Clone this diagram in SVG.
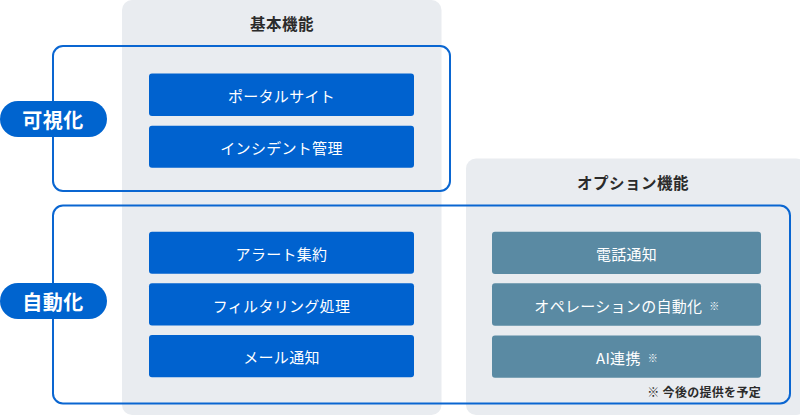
<svg xmlns="http://www.w3.org/2000/svg" width="800" height="416" viewBox="0 0 800 416">
<style>
text{font-family:"Noto Sans CJK JP","Noto Sans",sans-serif;}
.panel{fill:#e9ecf0;}
.ptitle{font-size:15.5px;font-weight:700;fill:#2b2b2b;text-anchor:middle;dominant-baseline:central;letter-spacing:0.5px;}
.outline{fill:none;stroke:#0a66d1;stroke-width:2;}
.pill{fill:#0064cf;}
.pilltxt{font-size:20px;font-weight:700;fill:#fff;text-anchor:middle;dominant-baseline:central;letter-spacing:0.5px;}
.bbox{fill:#0062cf;}
.obox{fill:#5a8aa3;}
.btxt{font-size:15px;font-weight:400;fill:#fff;text-anchor:middle;dominant-baseline:central;letter-spacing:0.3px;}
.mark{font-size:10px;}
.note{font-size:12px;font-weight:700;fill:#2b2b2b;text-anchor:end;dominant-baseline:central;letter-spacing:0.3px;}
</style>
<g id="panel-basic">
<rect class="panel" x="122" y="0" width="319.5" height="415" rx="10"/>
<text class="ptitle" x="282" y="23">基本機能</text>
</g>
<g id="panel-option">
<rect class="panel" x="466" y="158.5" width="340" height="256.5" rx="10"/>
<text class="ptitle" x="633" y="182">オプション機能</text>
</g>
<g id="connectors">
<rect id="group-visual" class="outline" x="53" y="46" width="397" height="145" rx="10"/>
<rect id="group-auto" class="outline" x="53" y="205.5" width="737" height="198" rx="10"/>
</g>
<g id="pill-visual">
<rect class="pill" x="0" y="101" width="107" height="36" rx="18"/>
<text class="pilltxt" x="53" y="119">可視化</text>
</g>
<g id="pill-auto">
<rect class="pill" x="0" y="283" width="107" height="36" rx="18"/>
<text class="pilltxt" x="53" y="301">自動化</text>
</g>
<g id="node-portal">
<rect class="bbox" x="149" y="73.5" width="265" height="42.5" rx="3"/>
<text class="btxt" x="281.5" y="95.5">ポータルサイト</text>
</g>
<g id="node-incident">
<rect class="bbox" x="149" y="125.7" width="265" height="42" rx="3"/>
<text class="btxt" x="281.5" y="147">インシデント管理</text>
</g>
<g id="node-alert">
<rect class="bbox" x="149" y="231.7" width="265" height="42" rx="3"/>
<text class="btxt" x="281.5" y="253">アラート集約</text>
</g>
<g id="node-filter">
<rect class="bbox" x="149" y="283.3" width="265" height="42.2" rx="3"/>
<text class="btxt" x="281.5" y="305">フィルタリング処理</text>
</g>
<g id="node-mail">
<rect class="bbox" x="149" y="335" width="265" height="42.3" rx="3"/>
<text class="btxt" x="281.5" y="356.5">メール通知</text>
</g>
<g id="node-phone">
<rect class="obox" x="492" y="231.7" width="269" height="42.3" rx="3"/>
<text class="btxt" x="626.5" y="253">電話通知</text>
</g>
<g id="node-operation">
<rect class="obox" x="492" y="283.3" width="269" height="42.4" rx="3"/>
<text class="btxt" x="627" y="305">オペレーションの自動化<tspan class="mark" dx="7">※</tspan></text>
</g>
<g id="node-ai">
<rect class="obox" x="492" y="335.5" width="269" height="42.2" rx="3"/>
<text class="btxt" x="627" y="357">AI連携<tspan class="mark" dx="7">※</tspan></text>
</g>
<g id="note">
<text class="note" x="761" y="391.5">※ 今後の提供を予定</text>
</g>
</svg>
